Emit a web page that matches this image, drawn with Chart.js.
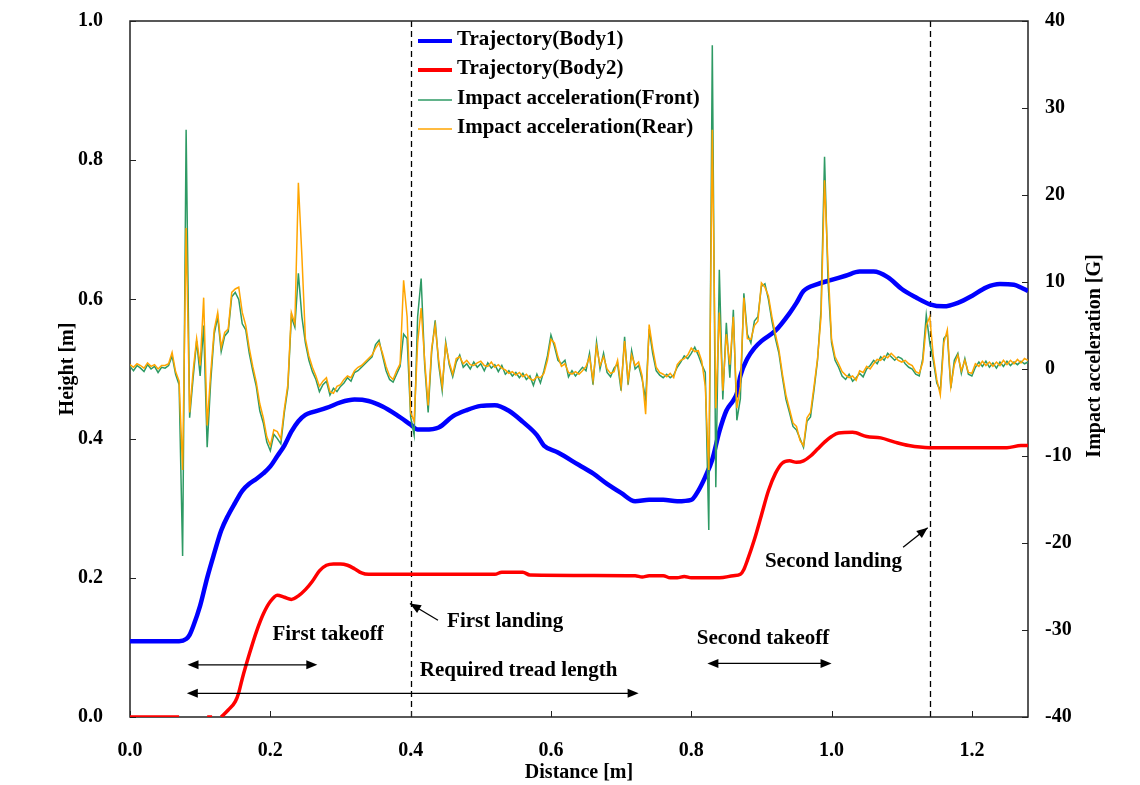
<!DOCTYPE html>
<html>
<head>
<meta charset="utf-8">
<script src="https://cdn.jsdelivr.net/npm/chart.js@4.4.0/dist/chart.umd.min.js"></script>
<style>
  html, body { margin: 0; padding: 0; background: #fff; }
</style>
</head>
<body>
<canvas id="grafico_salto" width="1140" height="785"></canvas>
<script>
// distance axis for the acceleration records [m]
var accDist = [
  0, 0.005, 0.01, 0.015, 0.02, 0.025, 0.03, 0.035, 0.04, 0.045,
  0.05, 0.055, 0.06, 0.065, 0.07, 0.075, 0.08, 0.085, 0.09, 0.095,
  0.1, 0.105, 0.11, 0.115, 0.12, 0.125, 0.13, 0.135, 0.14, 0.145,
  0.15, 0.155, 0.16, 0.165, 0.17, 0.175, 0.18, 0.185, 0.19, 0.195,
  0.2, 0.205, 0.21, 0.215, 0.22, 0.225, 0.23, 0.235, 0.24, 0.245,
  0.25, 0.255, 0.26, 0.265, 0.27, 0.275, 0.28, 0.285, 0.29, 0.295,
  0.3, 0.305, 0.31, 0.315, 0.32, 0.325, 0.33, 0.335, 0.34, 0.345,
  0.35, 0.355, 0.36, 0.365, 0.37, 0.375, 0.38, 0.385, 0.39, 0.395,
  0.4, 0.405, 0.41, 0.415, 0.42, 0.425, 0.43, 0.435, 0.44, 0.445,
  0.45, 0.455, 0.46, 0.465, 0.47, 0.475, 0.48, 0.485, 0.49, 0.495,
  0.5, 0.505, 0.51, 0.515, 0.52, 0.525, 0.53, 0.535, 0.54, 0.545,
  0.55, 0.555, 0.56, 0.565, 0.57, 0.575, 0.58, 0.585, 0.59, 0.595,
  0.6, 0.605, 0.61, 0.615, 0.62, 0.625, 0.63, 0.635, 0.64, 0.645,
  0.65, 0.655, 0.66, 0.665, 0.67, 0.675, 0.68, 0.685, 0.69, 0.695,
  0.7, 0.705, 0.71, 0.715, 0.72, 0.725, 0.73, 0.735, 0.74, 0.745,
  0.75, 0.755, 0.76, 0.765, 0.77, 0.775, 0.78, 0.785, 0.79, 0.795,
  0.8, 0.805, 0.81, 0.815, 0.82, 0.825, 0.83, 0.835, 0.84, 0.845,
  0.85, 0.855, 0.86, 0.865, 0.87, 0.875, 0.88, 0.885, 0.89, 0.895,
  0.9, 0.905, 0.91, 0.915, 0.92, 0.925, 0.93, 0.935, 0.94, 0.945,
  0.95, 0.955, 0.96, 0.965, 0.97, 0.975, 0.98, 0.985, 0.99, 0.995,
  1.0, 1.005, 1.01, 1.015, 1.02, 1.025, 1.03, 1.035, 1.04, 1.045,
  1.05, 1.055, 1.06, 1.065, 1.07, 1.075, 1.08, 1.085, 1.09, 1.095,
  1.1, 1.105, 1.11, 1.115, 1.12, 1.125, 1.13, 1.135, 1.14, 1.145,
  1.15, 1.155, 1.16, 1.165, 1.17, 1.175, 1.18, 1.185, 1.19, 1.195,
  1.2, 1.205, 1.21, 1.215, 1.22, 1.225, 1.23, 1.235, 1.24, 1.245,
  1.25, 1.255, 1.26, 1.265, 1.27, 1.275, 1.28
];

// impact acceleration, front sensor [G]
var accFront = [
  0.3, -0.2, 0.4, 0.1, -0.3, 0.5, 0.0, 0.3, -0.4, 0.2,
  0.1, 0.4, 1.5, -0.6, -1.8, -21.5, 27.5, -5.6, -1.0, 3.2,
  -0.8, 5.0, -9.0, -1.5, 4.0, 6.0, 2.0, 3.8, 4.3, 8.3,
  8.8, 8.0, 5.2, 4.5, 1.8, -0.2, -2.0, -4.8, -6.2, -8.4,
  -9.4, -7.5, -8.0, -8.6, -5.0, -2.2, 6.0, 4.8, 11.0, 6.0,
  3.0, 1.0, -0.3, -1.2, -2.6, -1.8, -1.4, -3.0, -2.2, -2.6,
  -2.0, -1.6, -1.0, -1.4, -0.4, -0.2, 0.2, 0.6, 1.0, 1.4,
  2.8, 3.3, 1.5, -0.2, -1.2, -1.5, -0.6, 0.3, 4.0, 3.5,
  -5.5, -7.6, 6.0, 10.4, 0.5, -5.0, 2.0, 5.6, 0.5, -2.5,
  3.1, 0.5, -0.9, 0.8, 1.6, 0.2, 0.6, 0.0, 0.8, 0.2,
  0.6, -0.2, 0.7, 0.1, 0.5, -0.3, 0.4, -0.6, -0.2, -0.8,
  -0.4, -1.0, -0.5, -1.2, -0.8, -1.9, -0.6, -1.6, -0.2, 1.5,
  3.9, 2.6, 1.0, 0.6, 1.0, -0.9, -0.2, -0.8, -0.3, 0.2,
  -0.2, 1.8, -1.8, 3.1, 0.0, 1.8, -0.4, -0.9, 0.1, 0.6,
  -2.5, 3.7, -1.8, 2.1, 0.0, 0.4, -1.2, -3.5, 4.6, 1.8,
  -0.2, -0.7, -1.0, -0.6, -1.0, -0.7, 0.2, 0.8, 1.5, 1.2,
  1.8, 2.5, 1.6, 0.5, -0.4, -18.5, 37.2, -13.6, 11.4, -3.5,
  5.3, -1.0, 6.8, -5.9, -3.4, 8.7, 4.0, 3.0, 5.5, 6.0,
  9.5, 9.8, 8.0, 5.5, 3.5, 1.8, -1.0, -3.5, -5.0, -6.6,
  -7.0, -8.0, -9.0, -6.0, -5.5, -2.4, 1.0, 6.8, 24.4, 10.0,
  3.0, 1.0, 0.2, -0.8, -1.2, -0.6, -1.4, -1.0, -0.5, -0.9,
  0.0, 0.4, 1.0, 0.6, 1.4, 1.0, 1.8, 1.4, 1.0, 1.4,
  1.2, 0.6, 0.2, 0.0, -0.6, -0.8, 1.2, 6.2, 3.0, 1.0,
  -1.6, -2.5, 3.5, 4.0, -2.2, 1.0, 1.8, -0.5, 1.2, -0.6,
  -0.8, 0.2, 0.8, 0.3, 0.9, 0.2, 0.7, 0.1, 0.8, 0.3,
  0.9, 0.4, 0.8, 0.5, 0.9, 0.6, 0.8
];

// impact acceleration, rear sensor [G]
var accRear = [
  0.5, 0.2, 0.6, 0.4, 0.1, 0.7, 0.3, 0.5, 0.0, 0.4,
  0.4, 0.6, 1.9, -0.3, -1.4, -11.6, 16.2, -5.0, -0.2, 3.5,
  0.4, 8.2, -6.5, -0.5, 4.5, 6.5, 2.5, 4.2, 4.6, 8.8,
  9.2, 9.4, 6.5, 5.0, 2.4, 0.3, -1.5, -4.0, -5.6, -7.8,
  -8.8, -7.0, -7.2, -8.0, -4.6, -1.8, 6.5, 5.2, 21.4, 13.0,
  3.5, 1.5, 0.2, -0.8, -2.0, -1.4, -1.0, -2.6, -2.8, -2.0,
  -1.8, -1.2, -0.8, -1.0, -0.2, 0.2, 0.4, 0.8, 1.2, 1.6,
  2.4, 3.0, 1.8, 0.3, -0.8, -1.2, -0.2, 0.6, 10.2, 6.0,
  -5.0, -6.0, 3.0, 7.0, 1.0, -4.2, 2.4, 5.0, 1.0, -2.0,
  2.8, 0.8, -0.6, 1.2, 1.4, 0.6, 1.0, 0.5, 0.4, 0.7,
  0.9, 0.4, 0.3, 0.8, 0.2, 0.5, 0.1, -0.1, -0.5, -0.3,
  -0.7, -0.4, -0.9, -0.6, -1.1, -1.3, -0.9, -1.0, -0.5, 1.0,
  3.4, 3.0, 1.4, 0.3, 0.6, -0.4, -0.6, -0.3, -0.6, -0.2,
  0.3, 1.4, -1.3, 2.6, 0.4, 1.4, 0.0, -0.5, -0.3, 1.0,
  -2.0, 3.2, -1.3, 1.6, 0.4, 0.8, -0.8, -5.2, 5.1, 2.4,
  0.2, -0.4, -0.6, -0.9, -0.5, -1.0, 0.5, 1.0, 1.2, 1.6,
  2.4, 2.0, 2.1, 0.9, -2.0, -11.6, 27.5, -4.5, 6.5, -2.5,
  4.0, 0.5, 6.0, -4.5, -2.0, 8.2, 3.5, 3.4, 5.0, 5.5,
  9.9, 9.4, 8.4, 6.0, 4.0, 2.2, -0.6, -3.0, -4.6, -6.2,
  -6.6, -8.2, -8.8, -5.6, -5.0, -2.0, 1.2, 6.0, 21.7, 11.8,
  3.4, 1.4, 0.6, -0.3, -0.7, -1.0, -0.8, -1.3, -0.2, -0.4,
  0.3, 0.0, 0.6, 1.1, 1.0, 1.5, 1.3, 1.8, 1.4, 1.0,
  0.8, 1.0, 0.6, 0.4, -0.3, -0.5, 0.8, 5.0, 6.0, 1.5,
  -1.2, -3.0, 3.0, 4.5, -2.0, 0.5, 1.6, -0.2, 1.0, -0.4,
  -0.5, 0.6, 0.3, 0.9, 0.4, 0.8, 0.3, 0.8, 0.4, 1.0,
  0.5, 1.0, 0.6, 1.1, 0.7, 1.2, 1.0
];

// trajectory of body 1 [m]
var body1Dist = [
  0, 0.07, 0.08, 0.085, 0.09, 0.10, 0.11, 0.12, 0.13, 0.14, 0.15, 0.16, 0.17, 0.18,
  0.19, 0.20, 0.21, 0.22, 0.23, 0.24, 0.25, 0.26, 0.28, 0.30, 0.32, 0.34, 0.36, 0.38,
  0.40, 0.41, 0.42, 0.44, 0.46, 0.48, 0.50, 0.52, 0.54, 0.56, 0.58, 0.59, 0.61, 0.64,
  0.66, 0.68, 0.70, 0.72, 0.74, 0.76, 0.78, 0.80, 0.81, 0.82, 0.83, 0.84, 0.85, 0.86,
  0.865, 0.87, 0.88, 0.89, 0.90, 0.92, 0.94, 0.95, 0.96, 0.98, 1.00, 1.02, 1.04, 1.06,
  1.08, 1.10, 1.12, 1.14, 1.16, 1.18, 1.20, 1.22, 1.24, 1.26, 1.27, 1.28
];
var body1Height = [
  0.109, 0.109, 0.112, 0.118, 0.13, 0.16, 0.20, 0.235, 0.268, 0.29, 0.308, 0.325, 0.335, 0.342,
  0.35, 0.36, 0.375, 0.39, 0.41, 0.425, 0.434, 0.438, 0.444, 0.452, 0.456, 0.454, 0.446, 0.434,
  0.42, 0.413, 0.413, 0.416, 0.432, 0.441, 0.447, 0.448, 0.44, 0.424, 0.405, 0.39, 0.38, 0.362,
  0.35, 0.335, 0.322, 0.31, 0.312, 0.312, 0.31, 0.312, 0.325, 0.345, 0.37, 0.41, 0.44, 0.455,
  0.465, 0.49, 0.515, 0.53, 0.54, 0.555, 0.58, 0.595, 0.612, 0.622, 0.628, 0.634, 0.64, 0.64,
  0.632, 0.615, 0.603, 0.593, 0.590, 0.595, 0.605, 0.617, 0.622, 0.621, 0.617, 0.612
];

// trajectory of body 2 [m]
var body2Dist = [
  0, 0.07, 0.075, 0.11, 0.117, 0.122, 0.13, 0.14, 0.15, 0.155, 0.16, 0.17, 0.18, 0.19,
  0.20, 0.21, 0.22, 0.23, 0.24, 0.25, 0.26, 0.27, 0.28, 0.29, 0.30, 0.31, 0.32, 0.33,
  0.34, 0.52, 0.53, 0.56, 0.57, 0.72, 0.73, 0.74, 0.76, 0.77, 0.78, 0.79, 0.80, 0.84,
  0.86, 0.87, 0.875, 0.88, 0.89, 0.90, 0.91, 0.92, 0.93, 0.94, 0.95, 0.96, 0.97, 0.98,
  0.99, 1.00, 1.01, 1.03, 1.05, 1.07, 1.09, 1.11, 1.14, 1.25, 1.27, 1.28
];
var body2Height = [
  0, 0, null, 0, 0, null, 0, 0.01, 0.022, 0.035, 0.055, 0.09, 0.122, 0.148,
  0.166, 0.175, 0.172, 0.169, 0.174, 0.183, 0.195, 0.21, 0.218, 0.22, 0.22, 0.218, 0.213, 0.207,
  0.205, 0.205, 0.208, 0.208, 0.204, 0.203, 0.201, 0.203, 0.203, 0.2, 0.2, 0.202, 0.2, 0.2,
  0.203, 0.205, 0.212, 0.225, 0.255, 0.29, 0.325, 0.35, 0.365, 0.368, 0.366, 0.368, 0.375, 0.385,
  0.395, 0.403, 0.408, 0.409, 0.403, 0.401, 0.395, 0.39, 0.387, 0.387, 0.39, 0.39
];

var landings = [0.4, 1.14];   // dashed vertical lines (distance)

// annotations: text placed in data units (distance, height)
var notas = [
  { text: 'First takeoff', x: 0.203, y: 0.118 },
  { text: 'First landing', x: 0.452, y: 0.137 },
  { text: 'Required tread length', x: 0.413, y: 0.067 },
  { text: 'Second takeoff', x: 0.808, y: 0.113 },
  { text: 'Second landing', x: 0.905, y: 0.224 }
];
var setasDuplas = [
  { x0: 0.082, x1: 0.267, y: 0.075 },
  { x0: 0.081, x1: 0.725, y: 0.034 },
  { x0: 0.823, x1: 1.0, y: 0.077 }
];
var setasSimples = [
  { x0: 0.439, y0: 0.139, x1: 0.399, y1: 0.163 },
  { x0: 1.102, y0: 0.244, x1: 1.137, y1: 0.272 }
];

var serif = "'Liberation Serif', 'Times New Roman', serif";
var legendOrder = [2, 3, 1, 0];

function pares(xs, ys) {
  return xs.map(function (d, i) { return { x: d, y: ys[i] }; });
}

function ponta(ctx, x0, y0, x1, y1) {
  var a = Math.atan2(y1 - y0, x1 - x0), L = 11, W = 4.5;
  ctx.beginPath();
  ctx.moveTo(x1, y1);
  ctx.lineTo(x1 - L * Math.cos(a) + W * Math.sin(a), y1 - L * Math.sin(a) - W * Math.cos(a));
  ctx.lineTo(x1 - L * Math.cos(a) - W * Math.sin(a), y1 - L * Math.sin(a) + W * Math.cos(a));
  ctx.closePath();
  ctx.fill();
}

var moldura = {
  id: 'moldura',
  beforeDatasetsDraw: function (chart) {
    var ctx = chart.ctx, a = chart.chartArea;
    var sx = chart.scales.x, sy = chart.scales.y, sa = chart.scales.y1;
    ctx.save();
    ctx.strokeStyle = '#000';
    ctx.lineWidth = 1.3;
    ctx.setLineDash([6, 4]);
    landings.forEach(function (d) {
      var px = Math.round(sx.getPixelForValue(d)) + 0.5;
      ctx.beginPath(); ctx.moveTo(px, a.top); ctx.lineTo(px, a.bottom); ctx.stroke();
    });
    ctx.setLineDash([]);
    ctx.lineWidth = 1.5;
    ctx.strokeStyle = '#222';
    ctx.strokeRect(a.left, a.top, a.right - a.left, a.bottom - a.top);
    ctx.lineWidth = 1;
    sx.ticks.forEach(function (t) {
      var p = Math.round(sx.getPixelForValue(t.value)) + 0.5;
      ctx.beginPath(); ctx.moveTo(p, a.bottom); ctx.lineTo(p, a.bottom - 6); ctx.stroke();
    });
    sy.ticks.forEach(function (t) {
      var p = Math.round(sy.getPixelForValue(t.value)) + 0.5;
      ctx.beginPath(); ctx.moveTo(a.left, p); ctx.lineTo(a.left + 6, p); ctx.stroke();
    });
    sa.ticks.forEach(function (t) {
      var p = Math.round(sa.getPixelForValue(t.value)) + 0.5;
      ctx.beginPath(); ctx.moveTo(a.right, p); ctx.lineTo(a.right - 6, p); ctx.stroke();
    });
    ctx.restore();
  },
  afterDraw: function (chart) {
    var ctx = chart.ctx;
    var sx = chart.scales.x, sy = chart.scales.y;
    ctx.save();
    ctx.fillStyle = '#000';
    ctx.strokeStyle = '#000';
    ctx.lineWidth = 1.3;
    setasDuplas.forEach(function (s) {
      var x0 = sx.getPixelForValue(s.x0), x1 = sx.getPixelForValue(s.x1), y = sy.getPixelForValue(s.y);
      ctx.beginPath(); ctx.moveTo(x0 + 4, y); ctx.lineTo(x1 - 4, y); ctx.stroke();
      ponta(ctx, x1, y, x0, y);
      ponta(ctx, x0, y, x1, y);
    });
    setasSimples.forEach(function (s) {
      var x0 = sx.getPixelForValue(s.x0), y0 = sy.getPixelForValue(s.y0);
      var x1 = sx.getPixelForValue(s.x1), y1 = sy.getPixelForValue(s.y1);
      ctx.beginPath(); ctx.moveTo(x0, y0); ctx.lineTo(x1, y1); ctx.stroke();
      ponta(ctx, x0, y0, x1, y1);
    });
    ctx.font = 'bold 21px ' + serif;
    ctx.textAlign = 'left';
    ctx.textBaseline = 'middle';
    notas.forEach(function (n) {
      ctx.fillText(n.text, sx.getPixelForValue(n.x), sy.getPixelForValue(n.y));
    });

    // legend
    var rows = [40, 69, 99, 128];
    legendOrder.forEach(function (idx, r) {
      var ds = chart.data.datasets[idx];
      ctx.strokeStyle = ds.borderColor;
      ctx.lineWidth = ds.borderWidth > 2 ? 4 : 1.6;
      ctx.beginPath(); ctx.moveTo(418, rows[r] + 1); ctx.lineTo(452, rows[r] + 1); ctx.stroke();
      ctx.fillStyle = '#000';
      ctx.fillText(ds.label, 457, rows[r]);
    });

    // right axis title, reading bottom to top
    ctx.translate(1095, 356);
    ctx.rotate(-Math.PI / 2);
    ctx.textAlign = 'center';
    ctx.font = 'bold 20px ' + serif;
    ctx.fillText('Impact acceleration [G]', 0, 0);
    ctx.restore();
  }
};

var tickFont = { family: serif, size: 20, weight: 'bold' };
var titleFont = { family: serif, size: 20, weight: 'bold' };

function fitVertical(w) {
  return function (s) { s.width = w; s.paddingTop = 0; s.paddingBottom = 0; };
}

new Chart(document.getElementById('grafico_salto'), {
  type: 'line',
  data: {
    datasets: [
      {
        label: 'Impact acceleration(Rear)',
        data: pares(accDist, accRear),
        yAxisID: 'y1',
        borderColor: '#FFA500',
        borderWidth: 1.5,
        pointRadius: 0,
        order: 0
      },
      {
        label: 'Impact acceleration(Front)',
        data: pares(accDist, accFront),
        yAxisID: 'y1',
        borderColor: '#2E9A64',
        borderWidth: 1.5,
        pointRadius: 0,
        order: 1
      },
      {
        label: 'Trajectory(Body1)',
        data: pares(body1Dist, body1Height),
        yAxisID: 'y',
        borderColor: '#0000FF',
        borderWidth: 4.5,
        pointRadius: 0,
        cubicInterpolationMode: 'monotone',
        order: 2
      },
      {
        label: 'Trajectory(Body2)',
        data: pares(body2Dist, body2Height),
        yAxisID: 'y',
        borderColor: '#FF0000',
        borderWidth: 3.5,
        pointRadius: 0,
        spanGaps: false,
        cubicInterpolationMode: 'monotone',
        order: 3
      }
    ]
  },
  options: {
    responsive: false,
    animation: false,
    devicePixelRatio: 1,
    layout: { padding: { top: 21, left: 0, right: 0, bottom: 0 } },
    plugins: {
      legend: { display: false },
      tooltip: { enabled: false }
    },
    scales: {
      x: {
        type: 'linear',
        min: 0, max: 1.28,
        grid: { display: false, drawTicks: false },
        border: { display: false },
        ticks: {
          stepSize: 0.2, includeBounds: false, padding: 22,
          font: tickFont, color: '#000',
          callback: function (v) { return v.toFixed(1); }
        },
        title: { display: true, text: 'Distance [m]', font: titleFont, color: '#000', padding: { top: 0, bottom: 0 } },
        afterFit: function (s) { s.height = 68; s.paddingLeft = 0; s.paddingRight = 0; }
      },
      y: {
        position: 'left',
        min: 0, max: 1,
        grid: { display: false, drawTicks: false },
        border: { display: false },
        ticks: {
          stepSize: 0.2, padding: 27,
          font: tickFont, color: '#000',
          callback: function (v) { return v.toFixed(1); }
        },
        title: { display: true, text: 'Height [m]', font: titleFont, color: '#000', padding: { top: 56, bottom: 0 } },
        afterFit: fitVertical(130)
      },
      y1: {
        position: 'right',
        min: -40, max: 40,
        grid: { display: false, drawTicks: false },
        border: { display: false },
        ticks: {
          stepSize: 10, padding: 17,
          font: tickFont, color: '#000',
          callback: function (v) { return String(v); }
        },
        afterFit: fitVertical(112)
      }
    }
  },
  plugins: [moldura]
});
</script>
</body>
</html>
